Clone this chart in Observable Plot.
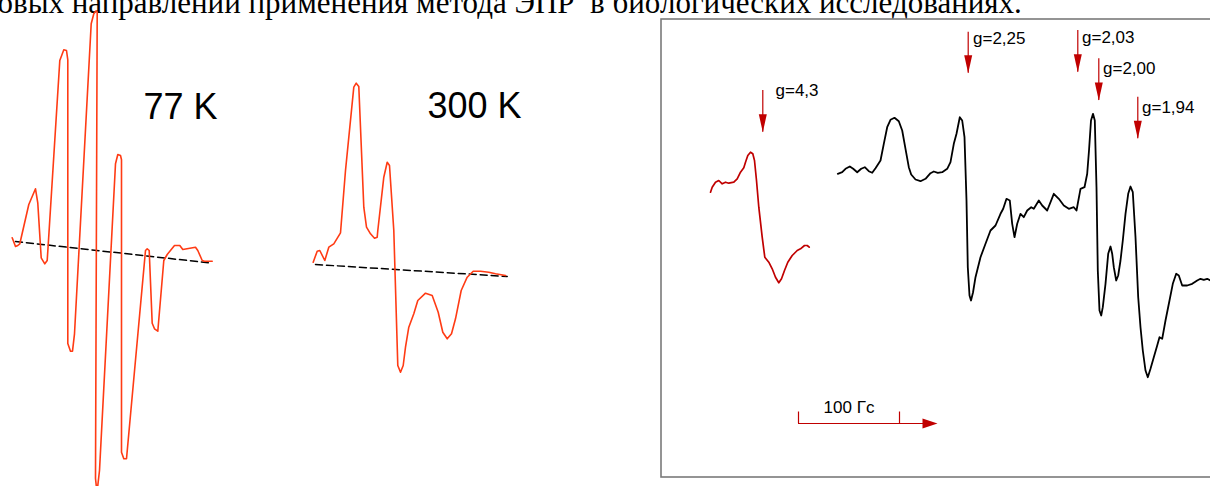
<!DOCTYPE html>
<html>
<head>
<meta charset="utf-8">
<script src="https://cdn.jsdelivr.net/npm/d3@7"></script>
<script src="https://cdn.jsdelivr.net/npm/@observablehq/plot@0.6"></script>
<style>
  html, body { margin: 0; padding: 0; background: #fff; overflow: hidden; }
  svg { overflow: hidden; display: block; }
  g[aria-label="g-labels"] text, g[aria-label="scale-label"] text { letter-spacing: -0.6px; }
</style>
</head>
<body>
<div id="chart"></div>
<script>
// ---- Data (page coordinates: field → x, signal → y, y grows downward) ----
const headerText = "овых направлений применения метода ЭПР\u00a0 в биологических исследованиях.";

// Left panel: 77 K spectrum
const spectrum77 = [
  [11.7,237.3],[15,246],[17.3,245],[19.3,243.3],[28.3,204],[35,188.3],[37.3,202.7],[40.7,257.3],
  [44.3,263.3],[46.7,260],[48.5,232],[59.3,60],[63.3,49.3],[66,50],[67.3,59.3],[67.3,343],
  [70,350.7],[72,350.7],[74,333.3],[90.7,23.3],[93.3,13.3],[95.7,10.3],[96.7,11.7],[95,478],
  [96.5,492],[99,470],[115,163.3],[117.3,154],[120,155],[121,159.3],[121,451.7],[123.3,458.3],
  [126,458.3],[145,250],[146.7,248.3],[148.7,250],[151.7,322.7],[154,328.3],[157.3,330.7],
  [163.3,260],[166.7,254],[174,245],[179.3,245],[182.3,249],[195,246.7],[197.3,250],
  [201.7,260],[204,260.7],[211.7,260.7]
];
const baseline77 = [[15,241],[208.3,262.3]];

// Middle panel: 300 K spectrum
const spectrum300 = [
  [312.7,261.7],[316.7,250.7],[319.3,250],[324.3,260],[328.3,246.7],[333.3,243.3],[340,232.3],
  [345,170],[353.3,86.7],[355.7,82.7],[358.3,86],[363.3,206.7],[366,226.7],[370,233.3],
  [374,237.7],[376.7,236.7],[377.3,230],[383.3,176.7],[386.7,161.7],[389,165],[393.3,230],
  [397.3,365],[400,371.7],[402.7,365],[405,346.7],[408.3,326.7],[413.3,313.3],[417.3,300],
  [425,292.7],[431.7,295],[437.7,311.7],[442.3,331.7],[446.7,338.3],[451,333.3],[455,318.3],
  [460.7,290],[466.7,276.7],[472.7,270.7],[480,270.7],[488.3,271.7],[495,273.3],[505,275]
];
const baseline300 = [[315,264],[506.7,276]];

const tempLabels = ["77 K", "300 K"];
const tempLabelX = [143, 427];
const tempLabelY = [118, 117];

// Right panel: g = 4.3 line (red) and g ≈ 2 region (black)
const spectrumFe = [
  [710,191.7],[711.7,186.7],[715,181.7],[718.3,180],[721.7,183.3],[725,181.7],[728.3,182.7],
  [733.3,181.7],[736.7,178.3],[740,171.7],[743.3,167.3],[745,161.7],[747.3,155],[750,151.7],
  [752.3,153.3],[754,160],[756,180],[758.3,206.7],[761.7,236.7],[764.3,256.7],[768.3,261.7],
  [771.7,268.3],[775,276.7],[778.3,282.3],[781,278.3],[784,270],[787.3,261.7],[791.7,255],
  [796.7,250],[800,248.3],[804,245],[806.7,245],[808.7,246.7]
];
const spectrumG2 = [
  [837.3,173.3],[841.7,171.7],[845,168.3],[849.3,166],[852.7,168.3],[856.7,171.7],[860.7,168.3],
  [864.3,166.7],[868.3,170.7],[871.7,172.3],[875,167.7],[880,160],[883.3,143.3],[886.7,126.7],
  [890,119.3],[894,117.3],[898.3,120.7],[901.7,130],[905,148.3],[908.3,166.7],[910.7,174],
  [915,179],[920,180.7],[925,178.3],[930,172.7],[933.3,171],[937.3,172.3],[941.7,171.7],
  [946.7,168.3],[950,161.7],[953.3,143.3],[956,133.3],[959.3,116.7],[961.7,120],[964,136.7],
  [966,200],[967.3,266.7],[969,295],[970.5,300],[972.5,292],[975,276.7],[980,256.7],[985,243.3],
  [990,230],[995,225],[1000,213.3],[1002.7,208.3],[1006,198.3],[1009.3,200],[1011.7,223.3],
  [1014,236.7],[1016.7,223.3],[1020,213.3],[1023.3,216.7],[1026.7,210],[1030.7,206.7],
  [1033.3,208.3],[1038.3,200],[1041.7,205],[1046.7,210],[1053.3,193.3],[1058.3,198.3],
  [1063.3,205],[1068.3,208.3],[1073.3,206.7],[1076,210],[1080,188.3],[1084,186.7],
  [1086.7,173.3],[1088.5,150],[1090.5,120],[1092.5,113.3],[1094.3,120],[1096,186.7],
  [1097.3,270],[1099,310],[1100.7,315],[1102.3,306.7],[1105,283.3],[1107.7,253.3],[1110,246],
  [1111.7,253.3],[1113.3,266.7],[1115.7,280],[1117.7,275],[1120,260],[1122.3,240],
  [1125,213.3],[1127.7,193.3],[1130,186],[1132.3,191.7],[1135,236.7],[1137.7,296.7],
  [1140,326.7],[1142.3,350],[1145,370],[1147.3,376.7],[1150,368.3],[1153.3,356.7],
  [1156.7,345],[1159,336.7],[1161.7,338.3],[1165,320],[1169,300],[1172.3,283.3],
  [1175.7,273.3],[1178.3,275],[1181.7,285],[1186.7,285],[1191.7,283.3],[1196.7,280],
  [1200,278.3],[1203.3,279.3],[1206.7,278.3],[1210,280]
];

// g-factor markers
const gLabels = ["g=4,3", "g=2,25", "g=2,03", "g=2,00", "g=1,94"];
const gField  = [762.3, 967.7, 1077.3, 1098.3, 1137.3];
const gTop    = [90, 31.7, 30, 58.3, 96.7];
const gTip    = [131.7, 72.7, 71.7, 100, 138.3];
const gLabelX = [775, 972.5, 1081.5, 1102.5, 1141.5];
const gLabelY = [95, 43, 42, 73, 112];

// Field scale bar (100 Гс)
const scaleTicks = [798, 899];
const scaleBarY = 423;
const scaleEnd = 937;
const scaleText = "100 Гс";

// Panel frame
const frameBox = [{x1: 661, x2: 1216, y1: 19, y2: 477}];

// ---- Build ----
const RED = "#c00000";
const ORANGE = "#ff3b14";
const toXY = a => a.map(([x, y]) => ({x, y}));
const markers = gLabels.map((label, i) => ({label, x: gField[i], top: gTop[i], tip: gTip[i], lx: gLabelX[i], ly: gLabelY[i]}));

const headDown = {draw(ctx) { ctx.moveTo(-4, -18); ctx.lineTo(4, -18); ctx.lineTo(0, 0); ctx.closePath(); }};
const headRight = {draw(ctx) { ctx.moveTo(-15, -5); ctx.lineTo(-15, 5); ctx.lineTo(0, 0); ctx.closePath(); }};

const sans = "Liberation Sans, Arial, sans-serif";

const chart = Plot.plot({
  width: 1210,
  height: 486,
  margin: 0,
  style: {background: "#fff", overflow: "hidden"},
  x: {domain: [0, 1210], range: [0, 1210], axis: null},
  y: {domain: [0, 486], range: [0, 486], axis: null},
  marks: [
    // header line of the document (clipped at top)
    Plot.text([headerText], {x: -3, y: 12.5, text: d => d, textAnchor: "start", lineAnchor: "bottom",
      fontFamily: "Liberation Serif, Times New Roman, serif", fontSize: 31, fill: "#000"}),

    // left / middle panels
    Plot.line(toXY(baseline77), {x: "x", y: "y", stroke: "#000", strokeWidth: 1.5, strokeDasharray: "7,4"}),
    Plot.line(toXY(baseline300), {x: "x", y: "y", stroke: "#000", strokeWidth: 1.5, strokeDasharray: "7,4"}),
    Plot.line(toXY(spectrum77), {x: "x", y: "y", stroke: ORANGE, strokeWidth: 1.6}),
    Plot.line(toXY(spectrum300), {x: "x", y: "y", stroke: ORANGE, strokeWidth: 1.6}),
    Plot.text(tempLabels, {x: (d, i) => tempLabelX[i], y: (d, i) => tempLabelY[i], text: d => d,
      textAnchor: "start", lineAnchor: "bottom", fontFamily: sans, fontSize: 36, fill: "#000"}),

    // right panel frame
    Plot.rect(frameBox, {x1: "x1", x2: "x2", y1: "y1", y2: "y2", fill: "none", stroke: "#7a7a7a", strokeWidth: 1.6}),

    // spectra
    Plot.line(toXY(spectrumFe), {x: "x", y: "y", stroke: RED, strokeWidth: 1.7}),
    Plot.line(toXY(spectrumG2), {x: "x", y: "y", stroke: "#000", strokeWidth: 1.8}),

    // g markers
    Plot.ruleX(markers, {x: "x", y1: "top", y2: "tip", stroke: RED, strokeWidth: 1.2}),
    Plot.dot(markers, {x: "x", y: "tip", symbol: headDown, fill: RED, stroke: "none", r: 4}),
    Plot.text(markers, {x: "lx", y: "ly", text: "label", textAnchor: "start", lineAnchor: "bottom",
      fontFamily: sans, fontSize: 17, fill: "#000", ariaLabel: "g-labels"}),

    // scale bar
    Plot.ruleY([scaleBarY], {x1: scaleTicks[0], x2: scaleEnd - 10, stroke: RED, strokeWidth: 1.2}),
    Plot.ruleX(scaleTicks, {x: d => d, y1: scaleBarY - 11.5, y2: scaleBarY, stroke: RED, strokeWidth: 1.2}),
    Plot.dot([scaleEnd], {x: d => d, y: scaleBarY, symbol: headRight, fill: RED, stroke: "none", r: 4}),
    Plot.text([scaleText], {x: (scaleTicks[0] + scaleTicks[1]) / 2, y: 412.7, text: d => d,
      textAnchor: "middle", lineAnchor: "bottom", fontFamily: sans, fontSize: 17, fill: "#000", ariaLabel: "scale-label"})
  ]
});
document.getElementById("chart").appendChild(chart);
</script>
</body>
</html>
